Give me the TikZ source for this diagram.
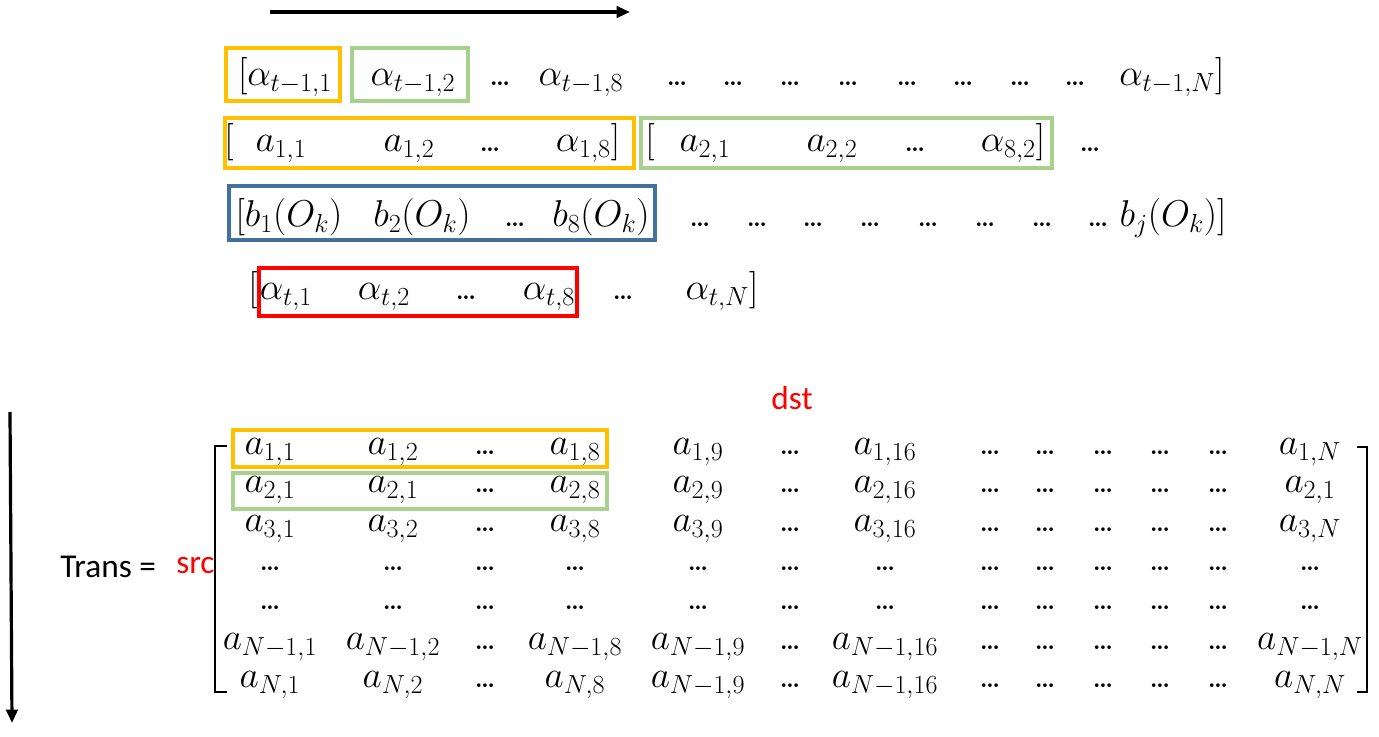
\RequirePackage{fix-cm}
\documentclass[tikz,border=0pt]{standalone}
\usepackage{fontspec}
\newfontfamily\calibri{Carlito}
\usetikzlibrary{arrows.meta}
\definecolor{boxorange}{HTML}{FFC000}
\definecolor{boxgreen}{HTML}{A9D18E}
\definecolor{boxblue}{HTML}{41719C}
\definecolor{boxred}{HTML}{FF0000}
\newcommand{\mydots}{{\fontsize{19}{21}\selectfont\bfseries\dots}}
\tikzset{
  tx/.style={anchor=base, inner sep=0pt, font=\fontsize{28}{33}\selectfont},
  sanslabel/.style={anchor=base, inner sep=0pt, font=\calibri\fontsize{25}{30}\selectfont},
  obox/.style={draw=boxorange, line width=3pt},
  gbox/.style={draw=boxgreen, line width=3pt},
  bbox/.style={draw=boxblue, line width=3pt},
  rbox/.style={draw=boxred, line width=2.6pt},
  arr/.style={line width=2.4pt, -{Triangle[length=10pt,width=8.5pt]}},
  brk/.style={line width=1.6pt}
}
\begin{document}
\begin{tikzpicture}[x=0.75pt,y=-0.75pt]
\useasboundingbox (0,0) rectangle (1379,737);
% arrows
\coordinate (ha) at (270,12); \coordinate (hb) at (630,12);
\draw[arr] (ha) -- (hb);
\coordinate (va) at (10,412); \coordinate (vb) at (12,723);
\draw[arr] (va) -- (vb);
% row 1
\foreach \x/\t [count=\i] in {285/{$[\alpha_{t-1,1}$},413/{$\alpha_{t-1,2}$},500/\mydots,581/{$\alpha_{t-1,8}$},677/\mydots,733/\mydots,790/\mydots,848/\mydots,907/\mydots,963/\mydots,1020/\mydots,1075/\mydots,1172/{$\alpha_{t-1,N}]$}}
  \node[tx] (ra-\i) at (\x,86) {\t};
% row 2
\foreach \x/\t [count=\i] in {229/{$[$},281/{$a_{1,1}$},409/{$a_{1,2}$},490/\mydots,588/{$\alpha_{1,8}]$},650/{$[$},705/{$a_{2,1}$},832/{$a_{2,2}$},915/\mydots,1013/{$\alpha_{8,2}]$},1090/\mydots}
  \node[tx] (rb-\i) at (\x,152) {\t};
% row 3
\foreach \x/\t [count=\i] in {289/{$[b_1(O_k)$},422/{$b_2(O_k)$},515/\mydots,601/{$b_8(O_k)$},700/\mydots,757/\mydots,813/\mydots,870/\mydots,928/\mydots,985/\mydots,1042/\mydots,1098/\mydots,1173/{$b_j(O_k)]$}}
  \node[tx] (rc-\i) at (\x,227) {\t};
% row 4
\foreach \x/\t [count=\i] in {253/{$[$},286/{$\alpha_{t,1}$},384/{$\alpha_{t,2}$},466/\mydots,549/{$\alpha_{t,8}$},623/\mydots,722/{$\alpha_{t,N}]$}}
  \node[tx] (rd-\i) at (\x,300) {\t};
% boxes top
\draw[obox] (226,48) rectangle (340,101);
\draw[gbox] (352,48) rectangle (468,101);
\draw[obox] (225,118) rectangle (634,168);
\draw[gbox] (641,118) rectangle (1052,168);
\draw[bbox] (229,186) rectangle (655,240);
\draw[rbox] (259,268) rectangle (577,316);
% labels
\node[sanslabel, text=boxred] (dst) at (792,410) {dst};
\node[sanslabel, anchor=base west] (trans) at (60,578) {Trans =};
\node[sanslabel, anchor=base west, text=boxred] (src) at (176,574) {src};
% matrix
\def\cols{270,393,485,575,698,790,885,990,1045,1103,1160,1218,1310}
\foreach \t [count=\i] in {{$a_{1,1}$},{$a_{1,2}$},\mydots,{$a_{1,8}$},{$a_{1,9}$},\mydots,{$a_{1,16}$},\mydots,\mydots,\mydots,\mydots,\mydots,{$a_{1,N}$}}
  {\pgfmathparse{{\cols}[\i-1]}\node[tx] (m1-\i) at (\pgfmathresult,455) {\t};}
\foreach \t [count=\i] in {{$a_{2,1}$},{$a_{2,1}$},\mydots,{$a_{2,8}$},{$a_{2,9}$},\mydots,{$a_{2,16}$},\mydots,\mydots,\mydots,\mydots,\mydots,{$a_{2,1}$}}
  {\pgfmathparse{{\cols}[\i-1]}\node[tx] (m2-\i) at (\pgfmathresult,493) {\t};}
\foreach \t [count=\i] in {{$a_{3,1}$},{$a_{3,2}$},\mydots,{$a_{3,8}$},{$a_{3,9}$},\mydots,{$a_{3,16}$},\mydots,\mydots,\mydots,\mydots,\mydots,{$a_{3,N}$}}
  {\pgfmathparse{{\cols}[\i-1]}\node[tx] (m3-\i) at (\pgfmathresult,532) {\t};}
\foreach \i in {1,...,13}
  {\pgfmathparse{{\cols}[\i-1]}\node[tx] (m4-\i) at (\pgfmathresult,571) {\mydots};}
\foreach \i in {1,...,13}
  {\pgfmathparse{{\cols}[\i-1]}\node[tx] (m5-\i) at (\pgfmathresult,610) {\mydots};}
\foreach \t [count=\i] in {{$a_{N-1,1}$},{$a_{N-1,2}$},\mydots,{$a_{N-1,8}$},{$a_{N-1,9}$},\mydots,{$a_{N-1,16}$},\mydots,\mydots,\mydots,\mydots,\mydots,{$a_{N-1,N}$}}
  {\pgfmathparse{{\cols}[\i-1]}\node[tx] (m6-\i) at (\pgfmathresult,650) {\t};}
\foreach \t [count=\i] in {{$a_{N,1}$},{$a_{N,2}$},\mydots,{$a_{N,8}$},{$a_{N-1,9}$},\mydots,{$a_{N-1,16}$},\mydots,\mydots,\mydots,\mydots,\mydots,{$a_{N,N}$}}
  {\pgfmathparse{{\cols}[\i-1]}\node[tx] (m7-\i) at (\pgfmathresult,688) {\t};}
% matrix brackets
\draw[brk] (227,446) -- (215,446) -- (215,692) -- (227,692);
\draw[brk] (1357,447) -- (1367,447) -- (1367,692) -- (1357,692);
% matrix boxes
\draw[obox] (233,430) rectangle (607,467);
\draw[gbox] (233,473) rectangle (607,509);
\end{tikzpicture}
\end{document}
